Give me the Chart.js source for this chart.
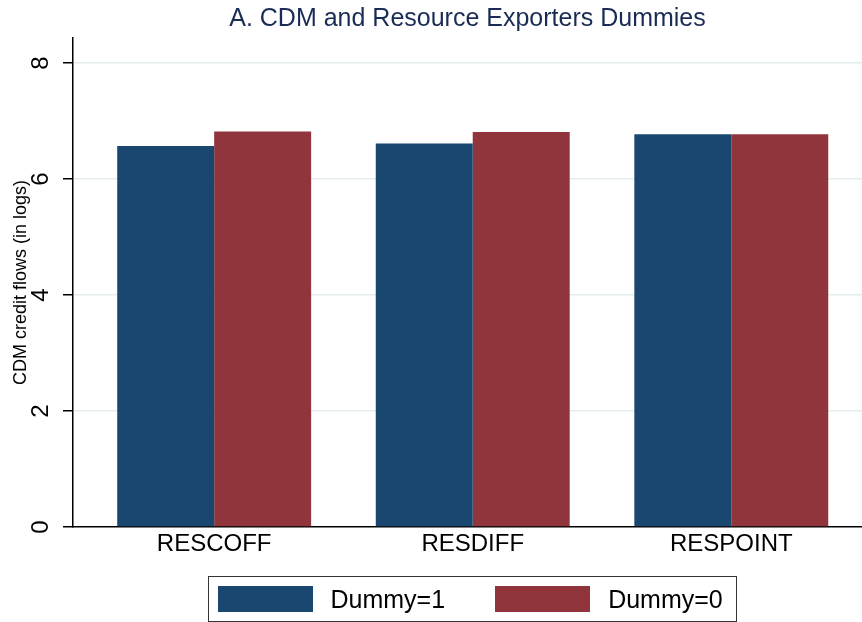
<!DOCTYPE html>
<html lang="en">
<head>
<meta charset="utf-8">
<title>A. CDM and Resource Exporters Dummies</title>
<script src="https://cdn.jsdelivr.net/npm/chart.js@4.4.1/dist/chart.umd.min.js"></script>
<style>
  html, body { margin: 0; padding: 0; background: #fff; }
  #quadro { position: relative; width: 862px; height: 622px; overflow: hidden; }
  #legenda {
    position: absolute; left: 208px; top: 576px; width: 529px; height: 46px;
    box-sizing: border-box; border: 1.5px solid #333;
    display: flex; align-items: center; padding-left: 8.5px;
    font: 25px "Liberation Sans", Arial, Helvetica, sans-serif; color: #000;
  }
  .legenda__item { display: flex; align-items: center; white-space: nowrap; }
  .legenda__item + .legenda__item { margin-left: 50px; }
  .legenda__caixa { width: 95px; height: 26px; margin-right: 18px; }
</style>
</head>
<body>
<div id="quadro">
  <canvas id="grafico" width="862" height="622"></canvas>
  <div id="legenda"></div>
</div>
<script>
// ---------------------------------------------------------------------
// Dados (médias em log)
// ---------------------------------------------------------------------
const categorias = ['RESCOFF', 'RESDIFF', 'RESPOINT'];
const dummy1 = [6.57, 6.61, 6.77];
const dummy0 = [6.82, 6.81, 6.77];
const ticksY = [0, 2, 4, 6, 8];
const rotulosSeries = ['Dummy=1', 'Dummy=0'];
const coresSeries = ['#1A476F', '#90353B'];

const fonte = '"Liberation Sans", Arial, Helvetica, sans-serif';
Chart.defaults.font.family = fonte;

function pontos(valores) {
  return valores.map((v, i) => ({ x: i, y: v }));
}

const grafico = new Chart(document.getElementById('grafico'), {
  type: 'bar',
  data: {
    datasets: [
      { label: rotulosSeries[0], data: pontos(dummy1), backgroundColor: coresSeries[0], categoryPercentage: 0.75, barPercentage: 1 },
      { label: rotulosSeries[1], data: pontos(dummy0), backgroundColor: coresSeries[1], categoryPercentage: 0.75, barPercentage: 1 }
    ]
  },
  options: {
    responsive: false,
    animation: false,
    devicePixelRatio: 1,
    layout: { padding: 0 },
    plugins: {
      legend: { display: false },
      tooltip: { enabled: false },
      title: {
        display: true,
        fullSize: false,
        text: 'A. CDM and Resource Exporters Dummies',
        color: '#1a2c56',
        font: { size: 25, weight: 'normal' },
        padding: { top: 4, bottom: 4 }
      }
    },
    scales: {
      x: {
        type: 'linear',
        bounds: 'data',
        offset: false,
        min: -0.546,
        max: 2.5055,
        afterBuildTicks: (s) => { s.ticks = categorias.map((_, i) => ({ value: i })); },
        afterFit: (s) => { s.height = 95; },
        ticks: {
          callback: (v) => categorias[v],
          color: '#000',
          font: { size: 24 },
          padding: 3,
          maxRotation: 0,
          autoSkip: false
        },
        grid: { display: false, drawTicks: false, offset: false },
        border: { display: true, color: '#000', width: 1.5 }
      },
      y: {
        bounds: 'data',
        min: 0,
        max: 8.431,
        afterBuildTicks: (s) => { s.ticks = ticksY.map((v) => ({ value: v })); },
        afterFit: (s) => { s.width = 73; },
        ticks: {
          callback: (v) => String(v),
          color: '#000',
          font: { size: 24 },
          minRotation: 90,
          maxRotation: 90,
          crossAlign: 'center',
          padding: 15
        },
        grid: {
          color: (c) => (c.tick && c.tick.value === 0 ? 'rgba(0,0,0,0)' : '#e4edef'),
          lineWidth: 1.5,
          tickColor: '#000',
          tickWidth: 1.5,
          tickLength: 10
        },
        border: { display: true, color: '#000', width: 1.5 },
        title: {
          display: true,
          text: 'CDM credit flows (in logs)',
          color: '#000',
          font: { size: 18 },
          padding: { top: 10, bottom: 0 }
        }
      }
    }
  }
});

// Legenda em HTML com moldura, como no original
const legenda = document.getElementById('legenda');
legenda.innerHTML = grafico.data.datasets.map((d) => `
  <div class="legenda__item">
    <span class="legenda__caixa" style="background:${d.backgroundColor}"></span>
    <span>${d.label}</span>
  </div>
`).join('');
</script>
</body>
</html>
